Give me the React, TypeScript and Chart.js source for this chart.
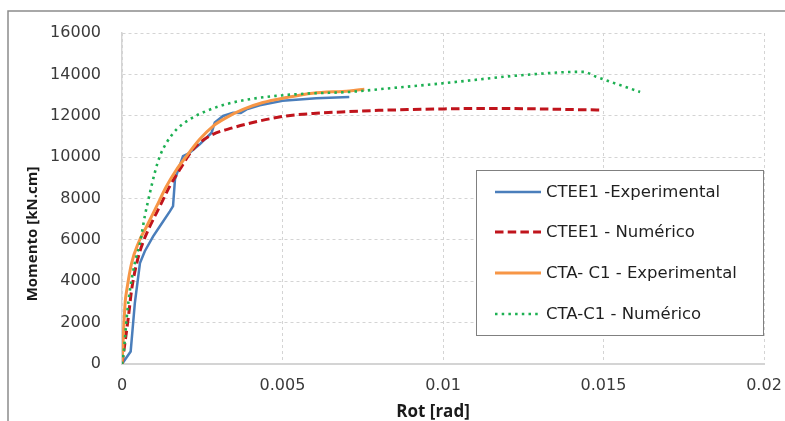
import React, { useEffect, useRef } from "react";
import { Chart, registerables } from "chart.js";

Chart.register(...registerables);

const xTickValues = [0, 0.005, 0.01, 0.015, 0.02];
const xTickLabels = ["0", "0.005", "0.01", "0.015", "0.02"];
const yTickValues = [0, 2000, 4000, 6000, 8000, 10000, 12000, 14000, 16000];
const yTickLabels = ["0", "2000", "4000", "6000", "8000", "10000", "12000", "14000", "16000"];

const xTitle = "Rot [rad]";
const yTitle = "Momento [kN.cm]";

const seriesLabels = [
  "CTEE1 -Experimental",
  "CTEE1 - Numérico",
  "CTA- C1 - Experimental",
  "CTA-C1 - Numérico",
];

const ctee1ExpX = [0, 0.00027, 0.0004, 0.00056, 0.00071, 0.00097, 0.00118, 0.00149, 0.00159, 0.00165, 0.0019, 0.00211, 0.00242, 0.00279, 0.00289, 0.00315, 0.00346, 0.0037, 0.00388, 0.00429, 0.005, 0.00605, 0.00708];
const ctee1ExpY = [0, 600, 2940, 4880, 5450, 6170, 6660, 7380, 7630, 8920, 10050, 10210, 10620, 11180, 11670, 11990, 12150, 12130, 12310, 12510, 12720, 12850, 12910];

const ctee1NumX = [0, 0.00009, 0.0002, 0.0003, 0.00046, 0.00061, 0.00087, 0.00118, 0.00149, 0.0018, 0.00221, 0.00273, 0.00346, 0.00429, 0.00512, 0.00605, 0.00708, 0.008, 0.009, 0.01, 0.011, 0.012, 0.013, 0.014, 0.0149];
const ctee1NumY = [0, 1000, 2290, 3590, 4880, 5690, 6660, 7630, 8600, 9400, 10370, 11020, 11420, 11750, 11990, 12120, 12200, 12260, 12300, 12330, 12350, 12350, 12330, 12300, 12280];

const ctaExpX = [0, 0.0001, 0.00015, 0.0003, 0.00051, 0.00077, 0.00108, 0.00139, 0.0017, 0.00201, 0.00242, 0.00284, 0.00325, 0.00377, 0.00439, 0.00512, 0.00594, 0.00708, 0.00755];
const ctaExpY = [0, 3000, 3590, 4880, 5850, 6660, 7630, 8600, 9400, 10050, 10860, 11500, 11910, 12310, 12640, 12880, 13090, 13200, 13280];

const ctaNumX = [0, 0.00006, 0.00015, 0.00025, 0.0004, 0.00056, 0.00071, 0.00087, 0.00102, 0.00118, 0.00139, 0.0017, 0.00211, 0.00263, 0.00325, 0.00398, 0.0048, 0.00574, 0.00708, 0.008, 0.01, 0.01245, 0.01422, 0.01438, 0.01475, 0.01614];
const ctaNumY = [0, 680, 2290, 3590, 4880, 5850, 7140, 8270, 9240, 10050, 10700, 11340, 11830, 12230, 12560, 12800, 12960, 13070, 13150, 13280, 13570, 13960, 14120, 14120, 13900, 13150];

const toPoints = (xs: number[], ys: number[]) => xs.map((x, i) => ({ x, y: ys[i] }));

const framePlugin = {
  id: "frame",
  beforeDraw(chart: any) {
    const ctx = chart.ctx;
    ctx.save();
    ctx.fillStyle = "#ffffff";
    ctx.fillRect(0, 0, chart.width, chart.height);
    ctx.strokeStyle = "#8c8c8c";
    ctx.lineWidth = 1.5;
    ctx.beginPath();
    ctx.moveTo(8, chart.height + 5);
    ctx.lineTo(8, 11);
    ctx.lineTo(chart.width + 5, 11);
    ctx.stroke();
    ctx.restore();
  },
};

const titlesPlugin = {
  id: "titles",
  afterDraw(chart: any) {
    const ctx = chart.ctx;
    ctx.save();
    ctx.fillStyle = "#1a1a1a";
    ctx.textAlign = "center";
    ctx.textBaseline = "middle";
    ctx.font = "bold 17px 'Open Sans'";
    ctx.fillText(xTitle, 433, 412);
    ctx.translate(33, 234);
    ctx.rotate(-Math.PI / 2);
    ctx.font = "bold 15px 'Open Sans'";
    ctx.fillText(yTitle, 0, 0);
    ctx.restore();
  },
};

const legendPlugin = {
  id: "boxLegend",
  afterDraw(chart: any) {
    const ctx = chart.ctx;
    const left = 476.5, top = 170.5, w = 287, h = 165;
    ctx.save();
    ctx.fillStyle = "#ffffff";
    ctx.fillRect(left, top, w, h);
    ctx.strokeStyle = "#808080";
    ctx.lineWidth = 1;
    ctx.strokeRect(left, top, w, h);
    const rows = [192, 232, 273, 314];
    chart.data.datasets.forEach((ds: any, i: number) => {
      const y = rows[i];
      ctx.save();
      ctx.strokeStyle = ds.borderColor;
      ctx.lineWidth = ds.borderWidth;
      ctx.setLineDash(ds.borderDash || []);
      ctx.beginPath();
      ctx.moveTo(495, y);
      ctx.lineTo(541, y);
      ctx.stroke();
      ctx.restore();
      ctx.fillStyle = "#1f1f1f";
      ctx.font = "16.5px 'DejaVu Sans'";
      ctx.textAlign = "left";
      ctx.textBaseline = "middle";
      ctx.fillText(ds.label, 546, y + 1);
    });
    ctx.restore();
  },
};

export default function App() {
  const canvasRef = useRef<HTMLCanvasElement | null>(null);

  useEffect(() => {
    if (!canvasRef.current) return;
    const chart = new Chart(canvasRef.current, {
      type: "line",
      data: {
        datasets: [
          {
            label: seriesLabels[0],
            data: toPoints(ctee1ExpX, ctee1ExpY),
            borderColor: "#4A7EBB",
            backgroundColor: "#4A7EBB",
            borderWidth: 2.5,
            pointRadius: 0,
            tension: 0,
            order: 4,
          },
          {
            label: seriesLabels[1],
            data: toPoints(ctee1NumX, ctee1NumY),
            borderColor: "#C0141C",
            backgroundColor: "#C0141C",
            borderWidth: 3,
            borderDash: [8.5, 4.2],
            pointRadius: 0,
            cubicInterpolationMode: "monotone",
            order: 3,
          },
          {
            label: seriesLabels[2],
            data: toPoints(ctaExpX, ctaExpY),
            borderColor: "#F79646",
            backgroundColor: "#F79646",
            borderWidth: 3,
            pointRadius: 0,
            cubicInterpolationMode: "monotone",
            order: 2,
          },
          {
            label: seriesLabels[3],
            data: toPoints(ctaNumX, ctaNumY),
            borderColor: "#1DB052",
            backgroundColor: "#1DB052",
            borderWidth: 2.6,
            borderDash: [2.5, 4.2],
            pointRadius: 0,
            cubicInterpolationMode: "monotone",
            order: 1,
          },
        ],
      },
      options: {
        animation: false,
        responsive: false,
        devicePixelRatio: 1,
        layout: { padding: { left: 0, right: 21, top: 33, bottom: 0 } },
        plugins: {
          legend: { display: false },
          tooltip: { enabled: false },
        },
        scales: {
          x: {
            type: "linear",
            min: 0,
            max: 0.02,
            afterFit: (scale: any) => {
              scale.height = 57;
              scale.paddingLeft = 0;
              scale.paddingRight = 0;
            },
            afterBuildTicks: (scale: any) => {
              scale.ticks = xTickValues.map((v) => ({ value: v }));
            },
            ticks: {
              padding: 12,
              maxRotation: 0,
              autoSkip: false,
              color: "#3a3a3a",
              font: { family: "DejaVu Sans", size: 16 },
              callback: (value: any) => {
                const i = xTickValues.findIndex((v) => Math.abs(v - Number(value)) < 1e-9);
                return i >= 0 ? xTickLabels[i] : "";
              },
            },
            grid: { color: "#d4d4d4", lineWidth: 1, drawTicks: false },
            border: { display: true, color: "#d4d4d4", width: 2, dash: [3, 3] },
          },
          y: {
            type: "linear",
            min: 0,
            max: 16000,
            afterFit: (scale: any) => {
              scale.width = 122;
              scale.paddingTop = 0;
              scale.paddingBottom = 0;
            },
            afterBuildTicks: (scale: any) => {
              scale.ticks = yTickValues.map((v) => ({ value: v }));
            },
            ticks: {
              padding: 21,
              autoSkip: false,
              color: "#3a3a3a",
              font: { family: "DejaVu Sans", size: 16 },
              callback: (value: any) => {
                const i = yTickValues.indexOf(Number(value));
                return i >= 0 ? yTickLabels[i] : "";
              },
            },
            grid: { color: "#d4d4d4", lineWidth: 1, drawTicks: false },
            border: { display: true, color: "#d4d4d4", width: 1.5, dash: [3, 3] },
          },
        },
      },
      plugins: [framePlugin, titlesPlugin, legendPlugin],
    } as any);
    return () => chart.destroy();
  }, []);

  return (
    <div style={{ position: "absolute", left: 0, top: 0, width: 785, height: 421 }}>
      <canvas ref={canvasRef} width={785} height={421} style={{ display: "block" }} />
    </div>
  );
}
